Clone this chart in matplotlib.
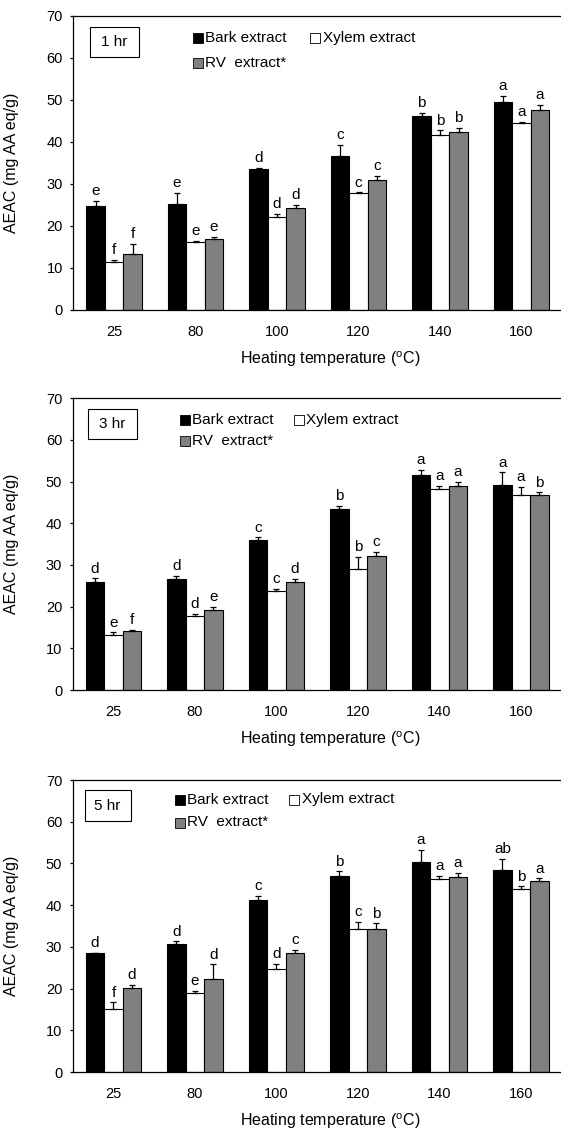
import matplotlib.pyplot as plt
import numpy as np
from matplotlib.patches import Rectangle

plt.rcParams['font.family'] = ['Liberation Sans', 'DejaVu Sans']
plt.rcParams['mathtext.fontset'] = 'custom'
plt.rcParams['mathtext.rm'] = 'Liberation Sans'
plt.rcParams['mathtext.default'] = 'regular'

temps = ['25', '80', '100', '120', '140', '160']
names = ['Bark extract', 'Xylem extract', 'RV  extract*']
colors = ['black', 'white', '#808080']
hours = ['1 hr', '3 hr', '5 hr']

# 1 hr
bark_1 = [24.8, 25.3, 33.6, 36.7, 46.2, 49.5]
xylem_1 = [11.5, 16.2, 22.2, 27.8, 41.7, 44.5]
rv_1 = [13.3, 16.9, 24.2, 30.9, 42.3, 47.5]
bark_1_err = [1.2, 2.5, 0.2, 2.5, 0.6, 1.5]
xylem_1_err = [0.5, 0.3, 0.6, 0.2, 1.0, 0.3]
rv_1_err = [2.4, 0.4, 0.8, 1.0, 1.1, 1.2]
bark_1_let = ['e', 'e', 'd', 'c', 'b', 'a']
xylem_1_let = ['f', 'e', 'd', 'c', 'b', 'a']
rv_1_let = ['f', 'e', 'd', 'c', 'b', 'a']

# 3 hr
bark_3 = [25.9, 26.6, 36.0, 43.4, 51.6, 49.2]
xylem_3 = [13.2, 17.8, 23.7, 29.1, 48.2, 46.9]
rv_3 = [14.2, 19.2, 25.8, 32.2, 49.0, 46.9]
bark_3_err = [0.9, 0.7, 0.6, 0.7, 1.2, 3.0]
xylem_3_err = [0.6, 0.5, 0.6, 2.9, 0.8, 1.9]
rv_3_err = [0.2, 0.8, 0.8, 1.0, 1.0, 0.5]
bark_3_let = ['d', 'd', 'c', 'b', 'a', 'a']
xylem_3_let = ['e', 'd', 'c', 'b', 'a', 'a']
rv_3_let = ['f', 'e', 'd', 'c', 'a', 'b']

# 5 hr
bark_5 = [28.5, 30.6, 41.2, 47.0, 50.3, 48.4]
xylem_5 = [15.2, 18.9, 24.8, 34.4, 46.2, 43.8]
rv_5 = [20.2, 22.4, 28.6, 34.4, 46.8, 45.7]
bark_5_err = [0.0, 0.7, 1.1, 1.1, 2.9, 2.6]
xylem_5_err = [1.5, 0.6, 1.2, 1.6, 0.9, 0.7]
rv_5_err = [0.7, 3.4, 0.6, 1.2, 1.0, 0.7]
bark_5_let = ['d', 'd', 'c', 'b', 'a', 'ab']
xylem_5_let = ['f', 'e', 'd', 'c', 'a', 'b']
rv_5_let = ['d', 'd', 'c', 'b', 'a', 'a']

values = [[bark_1, xylem_1, rv_1], [bark_3, xylem_3, rv_3], [bark_5, xylem_5, rv_5]]
errors = [[bark_1_err, xylem_1_err, rv_1_err], [bark_3_err, xylem_3_err, rv_3_err],
          [bark_5_err, xylem_5_err, rv_5_err]]
letters = [[bark_1_let, xylem_1_let, rv_1_let], [bark_3_let, xylem_3_let, rv_3_let],
           [bark_5_let, xylem_5_let, rv_5_let]]

W, H = 561, 1132
fig = plt.figure(figsize=(W / 100, H / 100), dpi=100)

# layout in pixels: axis left, axes top, axes bottom
axes_px = [(73.3, 15.7, 310), (72.7, 398.3, 690), (72.7, 780, 1072)]
axw = 489.0
# hour box: left, right, top-offset, bottom-offset (px)
box_px = [(90, 139, 11, 41.6), (88.3, 136.7, 11, 41), (84.5, 130.6, 10, 41)]
# legend: bark square left, xylem square left, row1 centre, row2 centre (px from top)
leg_px = [(192.7, 310.2, 22.6, 47.6), (179.5, 294.0, 21.5, 42.5), (174.5, 289.0, 19.5, 42.5)]

x = np.arange(len(temps))
bw = 0.227

for p in range(3):
    left, top, bottom = axes_px[p]
    axh = bottom - top
    ax = fig.add_axes([left / W, 1 - bottom / H, axw / W, axh / H])
    for s in range(3):
        xs = x + (s - 1) * bw
        ax.bar(xs, values[p][s], width=bw, color=colors[s], edgecolor='black',
               linewidth=0.8, zorder=2)
        ax.errorbar(xs, values[p][s], yerr=[np.zeros(6), errors[p][s]], fmt='none',
                    ecolor='black', elinewidth=0.9, capsize=2.5, capthick=0.9, zorder=3)
        for i in range(6):
            ax.annotate(letters[p][s][i], (xs[i], values[p][s][i] + errors[p][s][i]),
                        xytext=(0, 2), textcoords='offset points', ha='center',
                        va='bottom', fontsize=11)
    ax.set_xlim(-0.5, 5.5)
    ax.set_ylim(0, 70)
    ax.set_yticks(range(0, 71, 10))
    ax.set_xticks(x)
    ax.set_xticklabels(temps)
    ax.tick_params(axis='x', length=0, pad=11, labelsize=10.5)
    ax.tick_params(axis='y', direction='out', length=2.5, width=0.9, pad=5, labelsize=10.5)
    for sp in ['left', 'bottom', 'top']:
        ax.spines[sp].set_linewidth(0.9)
    ax.spines['right'].set_visible(False)
    ax.set_ylabel('AEAC (mg AA eq/g)', fontsize=11.5)
    ax.yaxis.set_label_coords(-(left - 18.8) / axw, 0.5)
    ax.set_xlabel('Heating temperature ($^{o}$C)', fontsize=11.5)
    ax.xaxis.set_label_coords(0.526, -49.2 / axh)
    ax.xaxis.label.set_va('center')

    # hour box
    bl, br, bt, bb = box_px[p]
    ax.add_patch(Rectangle(((bl - left) / axw, 1 - bb / axh), (br - bl) / axw, (bb - bt) / axh,
                           transform=ax.transAxes, facecolor='white', edgecolor='black',
                           linewidth=0.8, zorder=4))
    ax.text((bl + br) / 2 / axw - left / axw, 1 - (bt + bb) / 2 / axh, hours[p],
            transform=ax.transAxes, ha='center', va='center', fontsize=11, zorder=5)

    # legend keys
    bx, xx, r1, r2 = leg_px[p]
    spots = [(bx, r1), (xx, r1), (bx, r2)]
    for s in range(3):
        kx, ky = spots[s]
        ax.add_patch(Rectangle(((kx - left) / axw, 1 - (ky + 5) / axh), 10 / axw, 10 / axh,
                               transform=ax.transAxes, facecolor=colors[s],
                               edgecolor='black', linewidth=0.6, zorder=4))
        ax.text((kx + 12.5 - left) / axw, 1 - ky / axh, names[s], transform=ax.transAxes,
                ha='left', va='center', fontsize=11, zorder=5)

fig.savefig('out.png', dpi=100)
